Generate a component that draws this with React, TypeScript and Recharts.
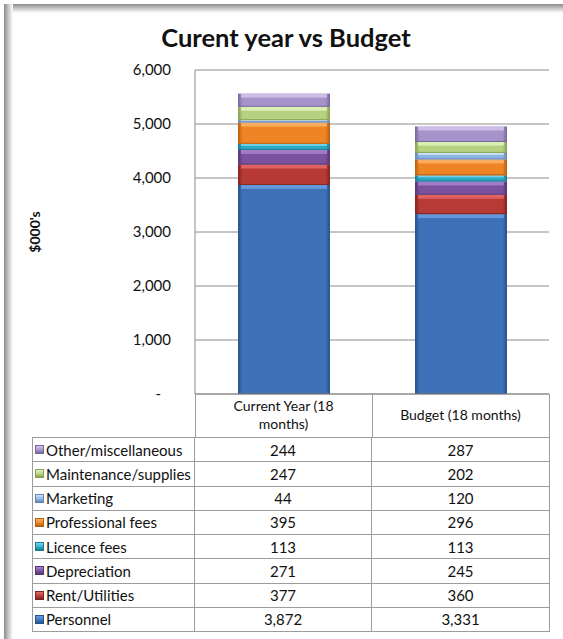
import React from 'react';
import { BarChart, Bar, XAxis, YAxis, CartesianGrid, Text } from 'recharts';

const categories = ['Current Year (18 months)', 'Budget (18 months)'];
const seriesNames = [
  'Personnel',
  'Rent/Utilities',
  'Depreciation',
  'Licence fees',
  'Professional fees',
  'Marketing',
  'Maintenance/supplies',
  'Other/miscellaneous',
];
const currentYear = [3872, 377, 271, 113, 395, 44, 247, 244];
const budget = [3331, 360, 245, 113, 296, 120, 202, 287];
const yTicks = [0, 1000, 2000, 3000, 4000, 5000, 6000];

// base / dark edge / light highlight for each series
const COLORS = [
  ['#3d72b9', '#28528a', '#6a9de0'],
  ['#b83a37', '#7e2320', '#e66a66'],
  ['#7b529e', '#553570', '#a882cc'],
  ['#2ea8c4', '#1b7a90', '#79d9ee'],
  ['#ee8424', '#b35f12', '#fbb46a'],
  ['#8db4e2', '#5f86b5', '#cfe3f8'],
  ['#b6d17f', '#86a054', '#e2f3bd'],
  ['#a593c9', '#76659a', '#d3c6ec'],
];

const FONT = 'Lato, "Open Sans", sans-serif';
const W = 563;
const H = 639;
const PLOT_LEFT = 195;
const PLOT_RIGHT = 549;
const PLOT_TOP = 70;
const PLOT_BOTTOM = 394;
const COL_DIV = 372;
const TABLE_LEFT = 32;
const TABLE_TOP = 437;
const ROW_H = 24.25;
const BORDER = '#9c9c9c';

const seriesValues = [currentYear, budget];
const data = categories.map((name, i) => {
  const row: Record<string, any> = { name };
  seriesNames.forEach((_, j) => {
    row[`s${j}`] = seriesValues[i][j];
  });
  return row;
});

const fmt = (v: number) => (v === 0 ? '-' : v.toLocaleString('en-US'));

const BevelBar = (props: any) => {
  const { x, y, width, height, idx } = props;
  if (!height || height <= 0) return null;
  const b = Math.min(4, height / 3);
  return (
    <g>
      <rect x={x} y={y} width={width} height={height} fill={`url(#grad${idx})`} />
      <rect x={x + 3} y={y} width={width - 6} height={b} fill={COLORS[idx][2]} opacity={0.85} />
      <rect x={x} y={y + height - 1} width={width} height={1} fill={COLORS[idx][1]} opacity={0.9} />
    </g>
  );
};

const CategoryTick = (props: any) => {
  const { x, y, payload } = props;
  return (
    <Text
      x={x}
      y={y}
      width={150}
      textAnchor="middle"
      verticalAnchor="middle"
      lineHeight="1.3em"
      fontSize={14}
      fontFamily={FONT}
      fill="#111"
    >
      {payload.value}
    </Text>
  );
};

const ValueTick = (props: any) => {
  const { x, y, payload } = props;
  const zero = payload.value === 0;
  return (
    <text
      x={zero ? x - 10 : x}
      y={y}
      dy={5}
      textAnchor="end"
      fontSize={15}
      fontFamily={FONT}
      fill="#111"
    >
      {fmt(payload.value)}
    </text>
  );
};

export default function App() {
  const rows = seriesNames.map((n, j) => j).reverse();
  return (
    <div
      style={{
        position: 'absolute',
        left: 0,
        top: 0,
        width: W,
        height: H,
        background: '#fff',
        fontFamily: FONT,
        overflow: 'hidden',
      }}
    >
      {/* frame shadow */}
      <div
        style={{
          position: 'absolute',
          left: 4,
          top: 4,
          width: W - 4,
          height: 9,
          background: 'linear-gradient(to bottom, #8a8a8a, #c8c8c8 50%, #ffffff)',
        }}
      />
      <div
        style={{
          position: 'absolute',
          left: 4,
          top: 4,
          width: 9,
          height: H - 4,
          background: 'linear-gradient(to right, #8a8a8a, #c8c8c8 50%, #ffffff)',
        }}
      />

      <div
        style={{
          position: 'absolute',
          left: 0,
          width: 572,
          top: 22,
          textAlign: 'center',
          fontSize: 25.5,
          fontWeight: 700,
          color: '#111',
        }}
      >
        Curent year vs Budget
      </div>

      <div
        style={{
          position: 'absolute',
          left: 34,
          top: 232,
          transform: 'translate(-50%, -50%) rotate(-90deg)',
          fontSize: 14,
          fontWeight: 700,
          color: '#111',
          whiteSpace: 'nowrap',
        }}
      >
        $000's
      </div>

      <div style={{ position: 'absolute', left: 0, top: 0 }}>
        <BarChart
          width={W}
          height={H}
          data={data}
          margin={{ top: PLOT_TOP, right: W - PLOT_RIGHT, bottom: H - PLOT_BOTTOM - 43, left: 0 }}
          barSize={92}
        >
          <defs>
            {COLORS.map((c, i) => (
              <linearGradient key={i} id={`grad${i}`} x1="0" y1="0" x2="1" y2="0">
                <stop offset="0%" stopColor={c[1]} />
                <stop offset="5%" stopColor={c[0]} />
                <stop offset="50%" stopColor={c[0]} />
                <stop offset="95%" stopColor={c[0]} />
                <stop offset="100%" stopColor={c[1]} />
              </linearGradient>
            ))}
          </defs>
          <CartesianGrid vertical={false} stroke="#8c8c8c" />
          <XAxis
            dataKey="name"
            height={43}
            tickLine={false}
            tickSize={0}
            tickMargin={21}
            axisLine={{ stroke: '#8c8c8c' }}
            tick={<CategoryTick />}
            interval={0}
          />
          <YAxis
            width={PLOT_LEFT}
            domain={[0, 6000]}
            ticks={yTicks}
            tickLine={false}
            tickMargin={18}
            axisLine={{ stroke: '#8c8c8c' }}
            tick={<ValueTick />}
            interval={0}
          />
          {seriesNames.map((n, j) => (
            <Bar
              key={n}
              dataKey={`s${j}`}
              name={n}
              stackId="a"
              barSize={92}
              fill={COLORS[j][0]}
              shape={(p: any) => <BevelBar {...p} idx={j} />}
              isAnimationActive={false}
            />
          ))}
        </BarChart>
      </div>

      {/* header cell borders under the plot */}
      <div
        style={{
          position: 'absolute',
          left: PLOT_LEFT,
          top: PLOT_BOTTOM,
          width: PLOT_RIGHT - PLOT_LEFT + 1,
          height: TABLE_TOP - PLOT_BOTTOM,
          borderLeft: `1px solid ${BORDER}`,
          borderRight: `1px solid ${BORDER}`,
          boxSizing: 'border-box',
        }}
      />
      <div
        style={{
          position: 'absolute',
          left: COL_DIV,
          top: PLOT_BOTTOM,
          width: 1,
          height: TABLE_TOP - PLOT_BOTTOM,
          background: BORDER,
        }}
      />

      {/* data table */}
      <div style={{ position: 'absolute', left: TABLE_LEFT, top: TABLE_TOP }}>
        {rows.map((j, r) => (
          <div
            key={j}
            style={{
              position: 'absolute',
              left: 0,
              top: r * ROW_H,
              width: PLOT_RIGHT - TABLE_LEFT + 1,
              height: ROW_H + 1,
              boxSizing: 'border-box',
              border: `1px solid ${BORDER}`,
              display: 'flex',
              alignItems: 'center',
              fontSize: 15,
              color: '#111',
            }}
          >
            <div
              style={{
                width: PLOT_LEFT - TABLE_LEFT - 1,
                height: '100%',
                display: 'flex',
                alignItems: 'center',
                borderRight: `1px solid ${BORDER}`,
                paddingLeft: 2,
                boxSizing: 'border-box',
                whiteSpace: 'nowrap',
              }}
            >
              <span
                style={{
                  display: 'inline-block',
                  width: 7,
                  height: 7,
                  marginRight: 2,
                  border: `1px solid ${COLORS[j][1]}`,
                  background: `linear-gradient(to bottom, ${COLORS[j][2]}, ${COLORS[j][0]} 60%, ${COLORS[j][1]})`,
                }}
              />
              {seriesNames[j]}
            </div>
            <div
              style={{
                width: COL_DIV - PLOT_LEFT,
                height: '100%',
                display: 'flex',
                alignItems: 'center',
                justifyContent: 'center',
                borderRight: `1px solid ${BORDER}`,
                boxSizing: 'border-box',
              }}
            >
              {fmt(currentYear[j])}
            </div>
            <div
              style={{
                flex: 1,
                height: '100%',
                display: 'flex',
                alignItems: 'center',
                justifyContent: 'center',
              }}
            >
              {fmt(budget[j])}
            </div>
          </div>
        ))}
      </div>
    </div>
  );
}
